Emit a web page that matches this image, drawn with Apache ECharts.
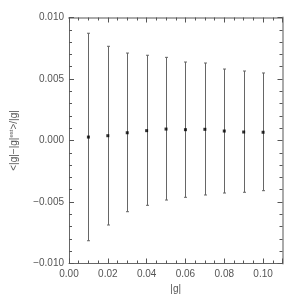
<!DOCTYPE html>
<html><head><meta charset="utf-8">
<script src="https://cdn.jsdelivr.net/npm/echarts@6/dist/echarts.min.js"></script>
<style>html,body{margin:0;padding:0;background:#fff}#c{width:300px;height:300px}</style>
</head><body><div id="c"></div>
<script>
const gValues = [0.01, 0.02, 0.03, 0.04, 0.05, 0.06, 0.07, 0.08, 0.09, 0.10];
const meanValues = [0.00028, 0.00039, 0.00063, 0.00080, 0.00093, 0.00088, 0.00091, 0.00077, 0.00069, 0.00067];
const upperValues = [0.00872, 0.00766, 0.00711, 0.00693, 0.00676, 0.00638, 0.00630, 0.00581, 0.00565, 0.00549];
const lowerValues = [-0.00815, -0.00687, -0.00579, -0.00527, -0.00484, -0.00462, -0.00443, -0.00427, -0.00421, -0.00408];
const xTickLabels = ['0.00', '0.02', '0.04', '0.06', '0.08', '0.10'];
const yTickLabels = ['-0.010', '-0.005', '0.000', '0.005', '0.010'];

const chart = echarts.init(document.getElementById('c'), null, {renderer: 'canvas'});
const font = 'Liberation Sans, Arial, sans-serif';
const labelColor = '#555';
const errData = gValues.map((g, i) => [g, lowerValues[i], upperValues[i]]);
const ptData = gValues.map((g, i) => [g, meanValues[i]]);

function xFmt(v) { const s = v.toFixed(2); return xTickLabels.includes(s) ? s : ''; }
function yFmt(v) { const s = v.toFixed(3); return yTickLabels.includes(s) ? s.replace('-', '\u2212') : ''; }

chart.setOption({
  animation: false,
  grid: {left: 62.5, right: 17.5, top: 17.5, bottom: 36.5},
  xAxis: [{
    type: 'value', min: 0, max: 0.11, interval: 0.02, position: 'bottom',
    name: '|g|', nameLocation: 'middle', nameGap: 16,
    nameTextStyle: {color: labelColor, fontFamily: font, fontSize: 10},
    axisLine: {show: true, onZero: false, lineStyle: {color: '#666', width: 1}},
    axisTick: {show: true, inside: true, length: 5, lineStyle: {color: '#555'}},
    minorTick: {show: true, splitNumber: 4, length: 3, lineStyle: {color: '#555'}},
    splitLine: {show: false},
    axisLabel: {color: labelColor, fontFamily: font, fontSize: 10, margin: 6, showMaxLabel: false, formatter: xFmt}
  }, {
    type: 'value', min: 0, max: 0.11, interval: 0.02, position: 'top',
    axisLine: {show: true, onZero: false, lineStyle: {color: '#aaa', width: 2}},
    axisTick: {show: true, inside: true, length: 5, lineStyle: {color: '#555'}},
    minorTick: {show: true, splitNumber: 4, length: 3, lineStyle: {color: '#555'}},
    splitLine: {show: false}, axisLabel: {show: false}
  }],
  yAxis: [{
    type: 'value', min: -0.010, max: 0.010, interval: 0.005, position: 'left',
    name: '{a|<|g|\u2212|g|}{s|est}{a|>/|g|}', nameLocation: 'middle', nameGap: 49, nameRotate: 90,
    nameTextStyle: {rich: {
      a: {color: labelColor, fontFamily: font, fontSize: 10, lineHeight: 12},
      s: {color: labelColor, fontFamily: font, fontSize: 6, verticalAlign: 'top', lineHeight: 12}
    }},
    axisLine: {show: true, onZero: false, lineStyle: {color: '#666', width: 1}},
    axisTick: {show: true, inside: true, length: 5, lineStyle: {color: '#555'}},
    minorTick: {show: true, splitNumber: 5, length: 3, lineStyle: {color: '#555'}},
    splitLine: {show: false},
    axisLabel: {color: labelColor, fontFamily: font, fontSize: 10, margin: 5, formatter: yFmt}
  }, {
    type: 'value', min: -0.010, max: 0.010, interval: 0.005, position: 'right',
    axisLine: {show: true, onZero: false, lineStyle: {color: '#aaa', width: 2}},
    axisTick: {show: true, inside: true, length: 5, lineStyle: {color: '#555'}},
    minorTick: {show: true, splitNumber: 5, length: 3, lineStyle: {color: '#555'}},
    splitLine: {show: false}, axisLabel: {show: false}
  }],
  series: [{
    type: 'custom',
    xAxisIndex: 0, yAxisIndex: 0,
    data: errData,
    renderItem: function (params, api) {
      const x = api.value(0);
      const lo = api.coord([x, api.value(1)]);
      const hi = api.coord([x, api.value(2)]);
      const px = Math.round(lo[0]) + 0.5;
      const c = 1.5;
      const style = {stroke: '#666', lineWidth: 1, fill: null};
      return {type: 'group', children: [
        {type: 'line', shape: {x1: px, y1: hi[1], x2: px, y2: lo[1]}, style: style},
        {type: 'line', shape: {x1: px - c, y1: hi[1], x2: px + c, y2: hi[1]}, style: style},
        {type: 'line', shape: {x1: px - c, y1: lo[1], x2: px + c, y2: lo[1]}, style: style}
      ]};
    },
    z: 2
  }, {
    type: 'scatter', xAxisIndex: 0, yAxisIndex: 0,
    data: ptData, symbol: 'rect', symbolSize: 3,
    itemStyle: {color: '#000'}, z: 3
  }]
});
</script></body></html>
